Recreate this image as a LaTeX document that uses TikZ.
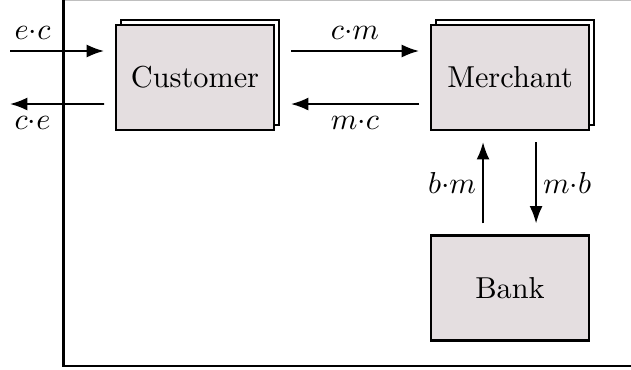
\documentclass[tikz,border=0pt]{standalone}
\usepackage{amsmath}
\usepackage{tikz}
\usetikzlibrary{positioning, calc}
\usetikzlibrary{arrows.meta}
\usetikzlibrary{shadows}
\definecolor{boxfill}{RGB}{228,222,224}

\begin{document}
\begin{tikzpicture}[x=0.33pt,y=-0.33pt,>=Latex,draw=black!100]
	\def \rowone{77.5}
	\def \rowtwo{288}
	\def \gap{11}
	\tikzstyle{p-node}=[draw,thick,fill=boxfill,text centered,minimum width=52pt,minimum height=34.6pt,inner sep=2pt]
	\tikzstyle{s-node}=[p-node,copy shadow={shadow xshift=1.65pt,shadow yshift=1.65pt,fill=white,draw=black,thick}]
	\tikzstyle{msg}=[semithick,->]
	\tikzstyle{lbl}=[inner sep=3.5pt]
	\useasboundingbox (0,0) rectangle (631,369);
	% frame
	\draw[black!25] (63.5,0.5) -- (631,0.5);
	\draw[thick] (63.5,0) -- (63.5,366) -- (631,366);
	
	% parties
	\node[s-node] 	(cust)	at (195,\rowone)	{Customer};
	\node[s-node] 	(merch)	at (510,\rowone)	{Merchant};
	\node[p-node] 	(bank)	at (510,\rowtwo)	{Bank};
	
	% outside ends
	\coordinate (envin)  at (10,51);
	\coordinate (envout) at (10,104);
	
	% messages
	\draw[msg] (envin) -- node[lbl,above,pos=0.24] {$e{\cdot}c$} ([xshift=-\gap*0.33pt,yshift=8.75pt]cust.west);
	\draw[msg] ([xshift=-\gap*0.33pt,yshift=-8.75pt]cust.west) -- node[lbl,below,pos=0.76] {$c{\cdot}e$} (envout);
	\draw[msg] ([xshift=16*0.33pt,yshift=8.75pt]cust.east) -- node[lbl,above] {$c{\cdot}m$} ([xshift=-\gap*0.33pt,yshift=8.75pt]merch.west);
	\draw[msg] ([xshift=-\gap*0.33pt,yshift=-8.75pt]merch.west) -- node[lbl,below] {$m{\cdot}c$} ([xshift=16*0.33pt,yshift=-8.75pt]cust.east);
	\draw[msg] ([xshift=-8.9pt,yshift=\gap*0.33pt]bank.north) -- node[lbl,left,inner sep=2pt] {$b{\cdot}m$} ([xshift=-8.9pt,yshift=-\gap*0.33pt]merch.south);
	\draw[msg] ([xshift=8.6pt,yshift=-\gap*0.33pt]merch.south) -- node[lbl,right,inner sep=2pt] {$m{\cdot}b$} ([xshift=8.6pt,yshift=\gap*0.33pt]bank.north);
\end{tikzpicture}
\end{document}
